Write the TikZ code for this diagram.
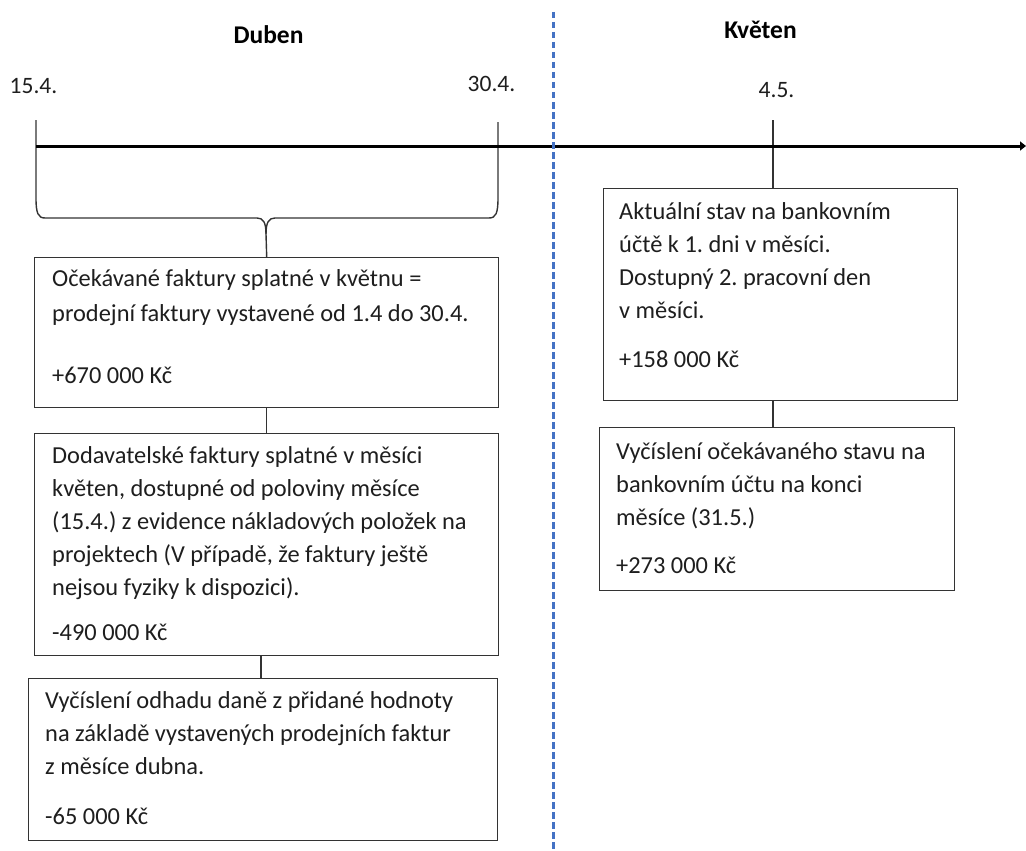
\documentclass[tikz,border=0pt]{standalone}
\usepackage{fontspec}
\setmainfont{Carlito}
\usetikzlibrary{arrows.meta,calc}
\definecolor{dashblue}{HTML}{4472C4}
\definecolor{boxline}{HTML}{333333}
\definecolor{txtcol}{HTML}{1E1E1E}
\frenchspacing
\begin{document}
\begin{tikzpicture}[x=1pt,y=-1pt,
  boxstyle/.style={draw=boxline, line width=1.4pt, rectangle, inner sep=0pt, anchor=north west},
  txt/.style={anchor=base west, inner sep=0pt, font=\fontsize{24.4}{33}\selectfont, text=txtcol},
  lbl/.style={anchor=base, inner sep=0pt, font=\fontsize{23.5}{30}\selectfont, text=txtcol},
  head/.style={anchor=base, inner sep=0pt, font=\fontsize{25.5}{30}\selectfont\bfseries, text=black},
  conn/.style={draw=boxline, line width=1.4pt},
  axis/.style={draw=black, line width=3pt, -{Triangle[length=6pt,width=9pt]}},
  sep/.style={draw=dashblue, line width=3pt, dash pattern=on 6.5pt off 3.5pt}
]
\useasboundingbox (0,0) rectangle (1026,851);

% headings and dates
\node[head] (duben) at (268.5,44) {Duben};
\node[head] (kveten) at (760.5,39) {Květen};
\node[lbl] (d154) at (33.5,93) {15.4.};
\node[lbl] (d304) at (491.5,92) {30.4.};
\node[lbl] (d45) at (776.5,98) {4.5.};

% tick coordinates
\coordinate (ltop) at (36,120);
\coordinate (rtop) at (498,122);
\coordinate (ktop) at (773,120);
\coordinate (axstart) at (36,146);
\coordinate (axend) at (1026,146);
\coordinate (cusp) at (266,234);
\coordinate (septop) at (553,12);
\coordinate (sepbot) at (553,851);

% boxes
\node[boxstyle, minimum width=464pt, minimum height=150pt] (b1) at (34,257) {};
\node[boxstyle, minimum width=464pt, minimum height=222pt] (b2) at (34,433) {};
\node[boxstyle, minimum width=469pt, minimum height=162pt] (b3) at (28,678) {};
\node[boxstyle, minimum width=354pt, minimum height=212pt] (b4) at (603,188) {};
\node[boxstyle, minimum width=355pt, minimum height=163pt] (b5) at (599,427) {};

% texts
\node[txt] (t1) at (52,286) {\begin{tabular}[t]{@{}l@{}}Očekávané faktury splatné v květnu =\\[2pt]
prodejní faktury vystavené od 1.4 do 30.4.\\[29pt]
+670 000 Kč\end{tabular}};
\node[txt] (t2) at (52,463) {\begin{tabular}[t]{@{}l@{}}Dodavatelské faktury splatné v měsíci\\
květen, dostupné od poloviny měsíce\\
(15.4.) z evidence nákladových položek na\\
projektech (V případě, že faktury ještě\\
nejsou fyziky k dispozici).\\[12pt]
-490 000 Kč\end{tabular}};
\node[txt] (t3) at (45,708) {\begin{tabular}[t]{@{}l@{}}Vyčíslení odhadu daně z přidané hodnoty\\
na základě vystavených prodejních faktur\\
z měsíce dubna.\\[17pt]
-65 000 Kč\end{tabular}};
\node[txt] (t4) at (619,219) {\begin{tabular}[t]{@{}l@{}}Aktuální stav na bankovním\\
účtě k 1. dni v měsíci.\\
Dostupný 2. pracovní den\\
v měsíci.\\[16pt]
+158 000 Kč\end{tabular}};
\node[txt] (t5) at (616,459) {\begin{tabular}[t]{@{}l@{}}Vyčíslení očekávaného stavu na\\
bankovním účtu na konci\\
měsíce (31.5.)\\[15pt]
+273 000 Kč\end{tabular}};

% brace under April
\draw[conn] (ltop) -- (36,198) .. controls (36,213) and (38,218) .. (45,218)
  -- (257,218) .. controls (263,218) and (266,222) .. (cusp);
\draw[conn] (cusp) .. controls (266,222) and (269,218) .. (275,218)
  -- (489,218) .. controls (496,218) and (498,213) .. (498,198) -- (rtop);
\draw[conn] (cusp) -- (b1.north);

% connectors between boxes
\draw[conn] (b1.south) -- (b2.north);
\draw[conn] (b3.north -| 261,0) -- (b2.south -| 261,0);
\draw[conn] (ktop) -- (ktop |- b4.north);
\draw[conn] (ktop |- b4.south) -- (ktop |- b5.north);

% axis
\draw[axis] (axstart) -- (axend);

% month separator
\draw[sep] (septop) -- (sepbot);
\end{tikzpicture}
\end{document}
